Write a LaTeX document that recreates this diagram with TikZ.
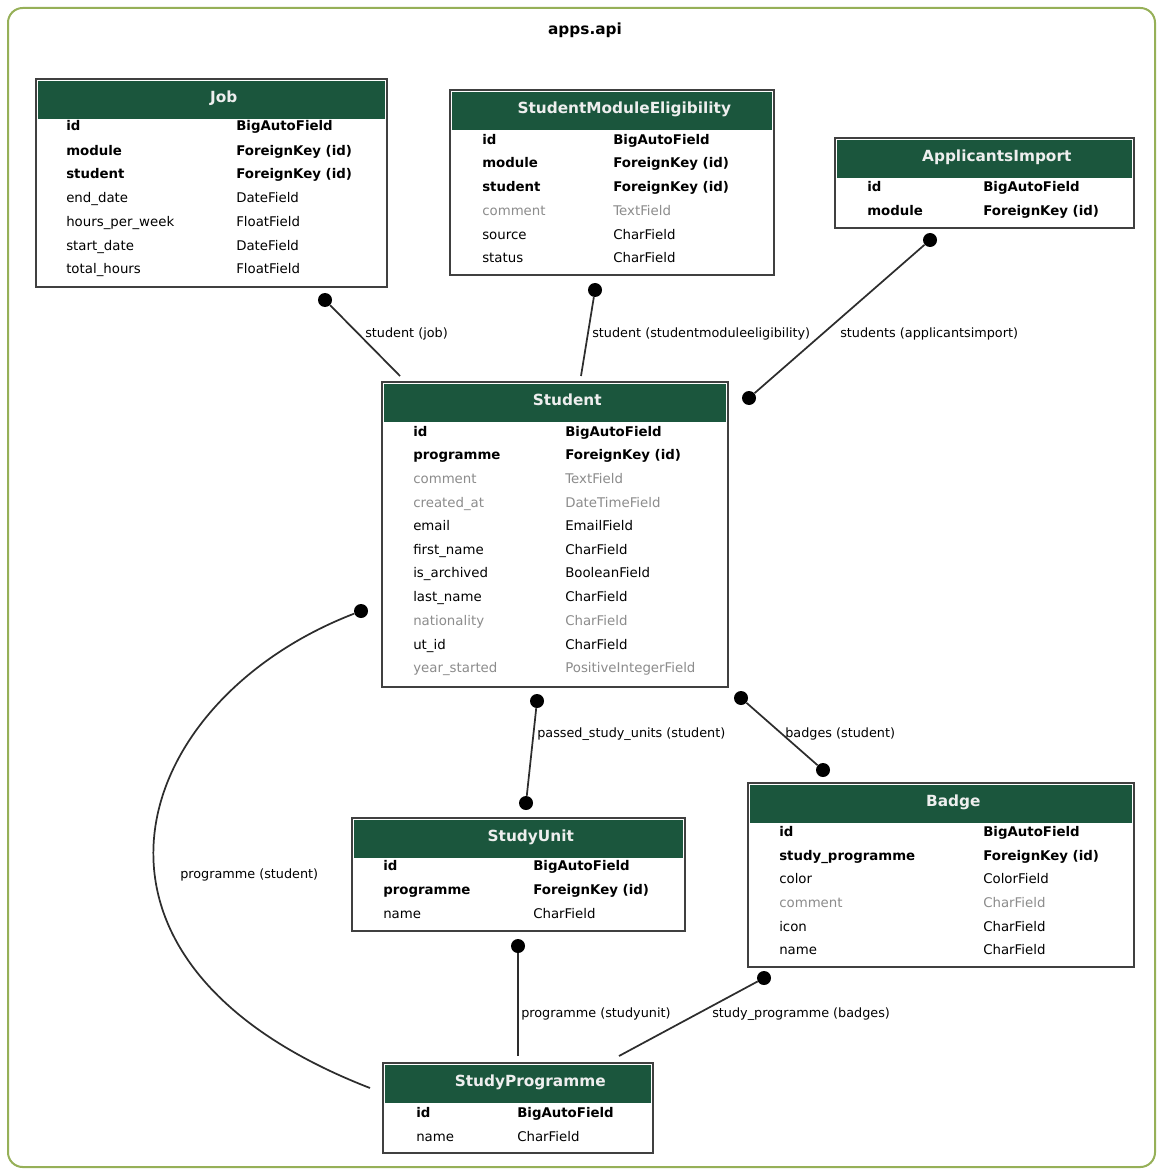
\documentclass[tikz,border=0pt]{standalone}
\usepackage{fontspec}
\setmainfont{DejaVu Sans}
\usetikzlibrary{calc}
\definecolor{hdrgreen}{RGB}{27,86,61}
\definecolor{framegreen}{RGB}{150,176,88}
\definecolor{grayfld}{RGB}{140,140,140}
\definecolor{hdrtext}{RGB}{238,238,238}
\definecolor{linegray}{RGB}{45,45,45}
\tikzset{
  tbl/.style={rectangle, draw=black!75, line width=1.2pt, fill=white, inner sep=0pt, outer sep=0pt, anchor=north west},
  hdr/.style={rectangle, fill=hdrgreen, inner sep=0pt, anchor=north west},
  hdrtxt/.style={text=hdrtext, inner sep=0pt, font=\fontsize{11.5}{13}\selectfont\bfseries, text height=0.75em, text depth=0.25em},
  pk/.style={anchor=mid west, inner sep=0pt, yshift=-1pt, font=\fontsize{10}{12}\selectfont\bfseries},
  nf/.style={anchor=mid west, inner sep=0pt, yshift=-1pt, font=\fontsize{10}{12}\selectfont},
  gf/.style={anchor=mid west, inner sep=0pt, yshift=-1pt, text=grayfld, font=\fontsize{10}{12}\selectfont},
  lbl/.style={anchor=mid west, inner sep=0pt, yshift=-1pt, font=\fontsize{9.6}{11}\selectfont},
  dot/.style={circle, fill=black, inner sep=0pt, minimum size=10.5pt},
  conn/.style={draw=linegray, line width=1.3pt},
  cluster/.style={rectangle, draw=framegreen, line width=1.5pt, rounded corners=11pt, inner sep=0pt, anchor=north west},
  ttl/.style={font=\fontsize{11.5}{13}\selectfont\bfseries, inner sep=0pt}
}
\newcommand{\mktable}[6]{%
  \node[tbl, minimum width=#4*0.75pt, minimum height=#5*0.75pt] (#1) at (#2,#3) {};
  \node[hdr, minimum width=(#4-4)*0.75pt, minimum height=38*0.75pt] (#1-hdr) at (#2+2,#3+2) {};
  \node[hdrtxt] (#1-title) at ($(#1-hdr.center)+(12,-1)$) {#6};}
\newcommand{\mkrow}[7]{%
  \node[#5] (#1-l) at (#2,#4) {#6};
  \node[#5] (#1-r) at (#3,#4) {#7};}
\begin{document}
\begin{tikzpicture}[x=0.75pt,y=-0.75pt]
\useasboundingbox (0,0) rectangle (1156,1169);
\node[cluster, minimum width=1147*0.75pt, minimum height=1159*0.75pt] (apps) at (7,7) {};
\node[ttl] (appstitle) at (585,30) {apps.api};

% Job
\mktable{job}{36}{79}{351}{208}{Job}
\mkrow{job1}{66}{236}{126}{pk}{id}{BigAutoField}
\mkrow{job2}{66}{236}{151}{pk}{module}{ForeignKey (id)}
\mkrow{job3}{66}{236}{174}{pk}{student}{ForeignKey (id)}
\mkrow{job4}{66}{236}{198}{nf}{end\_date}{DateField}
\mkrow{job5}{66}{236}{222}{nf}{hours\_per\_week}{FloatField}
\mkrow{job6}{66}{236}{246}{nf}{start\_date}{DateField}
\mkrow{job7}{66}{236}{269}{nf}{total\_hours}{FloatField}

% StudentModuleEligibility
\mktable{sme}{450}{90}{324}{185}{StudentModuleEligibility}
\mkrow{sme1}{482}{613}{140}{pk}{id}{BigAutoField}
\mkrow{sme2}{482}{613}{163}{pk}{module}{ForeignKey (id)}
\mkrow{sme3}{482}{613}{187}{pk}{student}{ForeignKey (id)}
\mkrow{sme4}{482}{613}{211}{gf}{comment}{TextField}
\mkrow{sme5}{482}{613}{235}{nf}{source}{CharField}
\mkrow{sme6}{482}{613}{258}{nf}{status}{CharField}

% ApplicantsImport
\mktable{ai}{835}{138}{299}{90}{ApplicantsImport}
\mkrow{ai1}{867}{983}{187}{pk}{id}{BigAutoField}
\mkrow{ai2}{867}{983}{211}{pk}{module}{ForeignKey (id)}

% Student
\mktable{stu}{382}{382}{346}{305}{Student}
\mkrow{stu1}{413}{565}{432}{pk}{id}{BigAutoField}
\mkrow{stu2}{413}{565}{455}{pk}{programme}{ForeignKey (id)}
\mkrow{stu3}{413}{565}{479}{gf}{comment}{TextField}
\mkrow{stu4}{413}{565}{503}{gf}{created\_at}{DateTimeField}
\mkrow{stu5}{413}{565}{526}{nf}{email}{EmailField}
\mkrow{stu6}{413}{565}{550}{nf}{first\_name}{CharField}
\mkrow{stu7}{413}{565}{573}{nf}{is\_archived}{BooleanField}
\mkrow{stu8}{413}{565}{597}{nf}{last\_name}{CharField}
\mkrow{stu9}{413}{565}{621}{gf}{nationality}{CharField}
\mkrow{stu10}{413}{565}{645}{nf}{ut\_id}{CharField}
\mkrow{stu11}{413}{565}{668}{gf}{year\_started}{PositiveIntegerField}

% StudyUnit
\mktable{su}{352}{818}{333}{113}{StudyUnit}
\mkrow{su1}{383}{533}{866}{pk}{id}{BigAutoField}
\mkrow{su2}{383}{533}{890}{pk}{programme}{ForeignKey (id)}
\mkrow{su3}{383}{533}{914}{nf}{name}{CharField}

% Badge
\mktable{bad}{748}{783}{386}{184}{Badge}
\mkrow{bad1}{779}{983}{832}{pk}{id}{BigAutoField}
\mkrow{bad2}{779}{983}{856}{pk}{study\_programme}{ForeignKey (id)}
\mkrow{bad3}{779}{983}{879}{nf}{color}{ColorField}
\mkrow{bad4}{779}{983}{903}{gf}{comment}{CharField}
\mkrow{bad5}{779}{983}{927}{nf}{icon}{CharField}
\mkrow{bad6}{779}{983}{950}{nf}{name}{CharField}

% StudyProgramme
\mktable{sp}{383}{1063}{270}{90}{StudyProgramme}
\mkrow{sp1}{416}{517}{1113}{pk}{id}{BigAutoField}
\mkrow{sp2}{416}{517}{1137}{nf}{name}{CharField}

% connector ends
\node[dot] (dJob) at (325,300) {};
\coordinate (eJob) at (400,376);
\node[dot] (dSme) at (595,290) {};
\coordinate (eSme) at (581,376);
\node[dot] (dAiA) at (930,240) {};
\node[dot] (dAiB) at (749,398) {};
\node[dot] (dSuA) at (537,701) {};
\node[dot] (dSuB) at (526,803) {};
\node[dot] (dBadA) at (741,698) {};
\node[dot] (dBadB) at (823,770) {};
\node[dot] (dProg) at (361,611) {};
\coordinate (eProg) at (370,1088);
\node[dot] (dSuSp) at (518,946) {};
\coordinate (eSuSp) at (518,1056);
\node[dot] (dBadSp) at (764,978) {};
\coordinate (eBadSp) at (619,1056);

\draw[conn] (dJob) -- (eJob);
\draw[conn] (dSme) -- (eSme);
\draw[conn] (dAiA) -- (dAiB);
\draw[conn] (dSuA) -- (dSuB);
\draw[conn] (dBadA) -- (dBadB);
\draw[conn] (dProg) .. controls (130,700) and (40,960) .. (eProg);
\draw[conn] (dSuSp) -- (eSuSp);
\draw[conn] (dBadSp) -- (eBadSp);

% labels
\node[lbl] (lJob) at (365,333) {student (job)};
\node[lbl] (lSme) at (592,333) {student (studentmoduleeligibility)};
\node[lbl] (lAi) at (840,333) {students (applicantsimport)};
\node[lbl] (lSu) at (537,733) {passed\_study\_units (student)};
\node[lbl] (lBad) at (785,733) {badges (student)};
\node[lbl] (lProg) at (180,874) {programme (student)};
\node[lbl] (lSuSp) at (521,1013) {programme (studyunit)};
\node[lbl] (lBadSp) at (712,1013) {study\_programme (badges)};
\end{tikzpicture}
\end{document}
